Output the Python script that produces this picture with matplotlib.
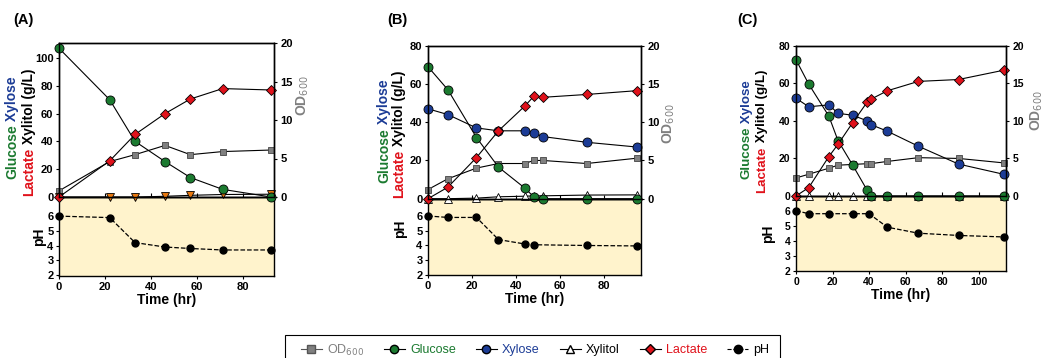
import matplotlib
matplotlib.use('Agg')
import matplotlib.pyplot as plt
from matplotlib.lines import Line2D
from matplotlib.patches import Rectangle

plt.rcParams['font.family'] = ['Liberation Sans', 'DejaVu Sans']

# ---- data ----
# (A)
tA = [0, 22, 33, 46, 57, 71, 92]
glcA = [107, 70, 40, 25.5, 14, 5.5, 0]
lacA = [0, 26, 45, 60, 70.5, 78, 77]
odA = [0.8, 4.6, 5.5, 6.7, 5.5, 5.9, 6.1]
xyltA = [0, 0, 0, 0.5, 1.2, 1.8, 2]
phA = [6.0, 5.9, 4.2, 3.9, 3.8, 3.7, 3.7]

# (B)
tB = [0, 9, 22, 32, 44, 48, 52, 72, 95]
glcB = [69, 57, 32, 16.5, 5.5, 1, 0, 0, 0]
xylB = [47, 44, 37, 35.5, 35.5, 34.5, 32.5, 29.5, 27]
lacB = [0, 6, 21.5, 35.5, 48.5, 53.5, 53, 54.5, 56.5]
odB = [1.2, 2.6, 4.0, 4.6, 4.6, 5.0, 5.0, 4.6, 5.3]
xyltB = [0, 0, 0.3, 1, 1.3, 1.5, 1.5, 1.9, 2]
tpB = [0, 9, 22, 32, 44, 48, 72, 95]
phB = [6.0, 5.9, 5.9, 4.4, 4.1, 4.05, 4.0, 3.97]

# (C)
tC = [0, 7, 18, 23, 31, 39, 41, 50, 67, 89, 114]
glcC = [72.5, 59.5, 42.5, 29.5, 16.5, 3, 0, 0, 0, 0, 0]
xylC = [52, 47.5, 48.5, 44, 43, 40, 38, 34.5, 26.5, 17, 11.5]
lacC = [0, 4.5, 21, 27.5, 39, 50, 51.5, 56, 61, 62, 67]
odC = [2.4, 2.9, 3.7, 4.1, 4.2, 4.3, 4.3, 4.6, 5.1, 5.0, 4.4]
xyltC = [0, 0, 0, 0, 0, 0, 0, 0, 0, 0, 0]
tpC = [0, 7, 18, 31, 40, 50, 67, 89, 114]
phC = [6.0, 5.8, 5.8, 5.8, 5.8, 4.9, 4.5, 4.35, 4.25]

GREEN = '#1b7a30'
BLUE = '#1c3c96'
RED = '#e0121b'
GRAY = '#808080'
ORANGE = '#e8780f'
PHBG = '#fff3cc'

W, H = 1043, 358
fig = plt.figure(figsize=(W / 100, H / 100), dpi=100)


def box(x0, x1, y0, y1):
    # pixel box -> figure fraction
    return [x0 / W, (H - y1) / H, (x1 - x0) / W, (y1 - y0) / H]


def colourLabel(ax, pieces, xoff, frac, size):
    # rotated label built from coloured pieces, read from bottom to top
    fig.canvas.draw()
    r = fig.canvas.get_renderer()
    texts = []
    for s, c in pieces:
        t = fig.text(0, 0, s, color=c, rotation=90, rotation_mode='anchor',
                     ha='left', va='center', fontsize=size, fontweight='bold')
        texts.append(t)
    lens = [t.get_window_extent(r).height for t in texts]
    bb = ax.get_window_extent(r)
    x = bb.x0 - xoff
    y = bb.y0 + frac * bb.height - sum(lens) / 2
    for t, L in zip(texts, lens):
        t.set_position(fig.transFigure.inverted().transform((x, y)))
        y += L


def panel(name, namex, px, top, bot, xmax, xticks, ylim, yticks, phlim, data, tsize):
    t, glc, xyl, lac, od, xylt, xyltStyle, tp, ph = data
    x0, x1 = px
    axp = fig.add_axes(box(x0, x1, bot[0], bot[1]))
    axp.set_facecolor(PHBG)
    axp.plot(tp, ph, '--', color='black', lw=0.9, marker='o', ms=5,
             mfc='black', mec='black', clip_on=False, zorder=3)
    axp.set_xlim(0, xmax)
    axp.set_ylim(*phlim)
    axp.set_yticks([2, 3, 4, 5, 6])
    axp.set_xticks(xticks)
    axp.tick_params(labelsize=tsize, width=0.8, length=2.5, pad=1.5)
    for lb in axp.get_xticklabels() + axp.get_yticklabels():
        lb.set_fontweight('bold')
    axp.set_xlabel('Time (hr)', fontsize=10, fontweight='bold', labelpad=1)
    for s in axp.spines.values():
        s.set_linewidth(1.0)

    ax = fig.add_axes(box(x0, x1, top[0], top[1]))
    ax2 = ax.twinx()
    ax.set_zorder(ax2.get_zorder() + 1)
    ax.patch.set_visible(False)
    ax2.plot(t, od, '-', color='black', lw=0.8, marker='s', ms=5,
             mfc=GRAY, mec='#444444', mew=0.6, clip_on=False)
    ax2.set_ylim(0, 20)
    ax2.set_yticks([0, 5, 10, 15, 20])
    mk = dict(lw=0.8, color='black', clip_on=False, mec='black', mew=0.6)
    if xyltStyle == 'orange':
        ax.plot(t, xylt, marker='v', ms=6, mfc=ORANGE, **mk)
    else:
        ax.plot(t, xylt, marker='^', ms=6, mfc='white', **mk)
    ax.plot(t, glc, marker='o', ms=6.5, mfc=GREEN, **mk)
    if xyl is not None:
        ax.plot(t, xyl, marker='o', ms=6.5, mfc=BLUE, **mk)
    ax.plot(t, lac, marker='D', ms=5.5, mfc=RED, **mk)
    ax.set_xlim(0, xmax)
    ax.set_ylim(*ylim)
    ax.set_yticks(yticks)
    ax.set_xticks(xticks)
    ax.tick_params(axis='x', direction='in', labelbottom=False, length=3, width=0.8)
    ax.tick_params(axis='y', labelsize=tsize, length=2.5, width=0.8, pad=1.5)
    ax2.tick_params(axis='y', labelsize=tsize, length=2.5, width=0.8, pad=2)
    for lb in ax.get_yticklabels() + ax2.get_yticklabels():
        lb.set_fontweight('bold')
    for a in (ax, ax2):
        for s in a.spines.values():
            s.set_linewidth(1.0)
    fig.text(namex / W, 1 - 20 / H, name, fontsize=10.5, fontweight='bold',
             va='center', ha='left')
    return ax, ax2, axp


# layout in pixels from the reference
axA, axA2, axAp = panel('(A)', 13, (59, 274), (43, 197), (197, 276), 93.3, [0, 20, 40, 60, 80],
                        (0, 110.8), [0, 20, 40, 60, 80, 100], (1.93, 7.3),
                        (tA, glcA, None, lacA, odA, xyltA, 'orange', tA, phA), 8)
axB, axB2, axBp = panel('(B)', 387, (428, 641), (45.7, 198.7), (198.7, 275), 96.7, [0, 20, 40, 60, 80],
                        (0, 80), [0, 20, 40, 60, 80], (2.0, 7.17),
                        (tB, glcB, xylB, lacB, odB, xyltB, 'white', tpB, phB), 8)
axC, axC2, axCp = panel('(C)', 737, (796, 1006), (45.7, 196), (196, 271), 115, [0, 20, 40, 60, 80, 100],
                        (0, 80), [0, 20, 40, 60, 80], (1.98, 6.98),
                        (tC, glcC, xylC, lacC, odC, xyltC, 'white', tpC, phC), 7.5)

# axis titles
for ax, ax2, axp, size, g_off, l_off, gf, lf, odx, odf, phx, phf in [
        (axA, axA2, axAp, 10, 47, 30, 0.45, 0.42, 29, 0.66, 20, 0.49),
        (axB, axB2, axBp, 10, 44, 29, 0.44, 0.42, 28, 0.49, 28, 0.60),
        (axC, axC2, axCp, 9.6, 49, 34, 0.44, 0.43, 31, 0.57, 28, 0.50)]:
    colourLabel(ax, [('Glucose', GREEN), (' Xylose', BLUE)], g_off, gf, size)
    colourLabel(ax, [('Lactate', RED), (' Xylitol (g/L)', 'black')], l_off, lf, size)
    bb = ax.get_position()
    fig.text(bb.x1 + odx / W, bb.y0 + odf * bb.height, 'OD$_{600}$', rotation=90,
             color=GRAY, fontsize=10, fontweight='bold', ha='center', va='center')
    pb = axp.get_position()
    fig.text(pb.x0 - phx / W, pb.y0 + phf * pb.height, 'pH', rotation=90,
             fontsize=10, fontweight='bold', ha='center', va='center')

# legend: frame drawn as a separate box, cut by the bottom edge as in the reference
fig.patches.append(Rectangle((285 / W, -0.02), 495 / W, (358 - 335) / H + 0.02,
                             transform=fig.transFigure, fill=False,
                             edgecolor='black', lw=0.8))
handles = [
    Line2D([], [], color='#555555', lw=0.8, marker='s', ms=6, mfc=GRAY, mec='#555555'),
    Line2D([], [], color='black', lw=0.8, marker='o', ms=6, mfc=GREEN, mec='black'),
    Line2D([], [], color='black', lw=0.8, marker='o', ms=6, mfc=BLUE, mec='black'),
    Line2D([], [], color='black', lw=0.8, marker='^', ms=6, mfc='white', mec='black'),
    Line2D([], [], color='black', lw=0.8, marker='D', ms=5, mfc=RED, mec='black'),
    Line2D([], [], color='black', lw=0.8, ls='--', marker='o', ms=6, mfc='black', mec='black'),
]
labels = ['OD$_{600}$', 'Glucose', 'Xylose', 'Xylitol', 'Lactate', 'pH']
leg = fig.legend(handles, labels, ncol=6, loc='center',
                 bbox_to_anchor=(535 / W, 1 - 350 / H), borderaxespad=0,
                 frameon=False, fontsize=9, handlelength=1.7, handletextpad=0.4,
                 columnspacing=1.6, borderpad=0.2)
for txt, c in zip(leg.get_texts(), [GRAY, GREEN, BLUE, 'black', RED, 'black']):
    txt.set_color(c)

fig.savefig('out.png', dpi=100)
